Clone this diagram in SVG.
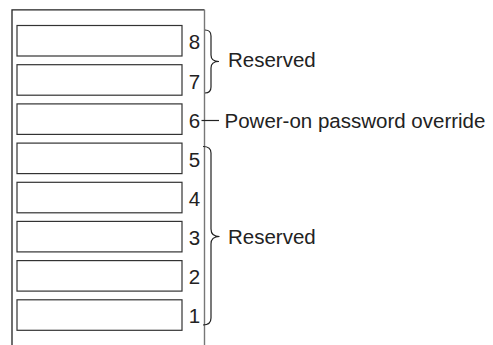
<svg xmlns="http://www.w3.org/2000/svg" width="493" height="345" viewBox="0 0 493 345">
<style>
.frame{fill:none;stroke:#222;stroke-width:1.3}
.rframe{fill:none;stroke:#777;stroke-width:1.4}
.slot{fill:#fff;stroke:#333;stroke-width:1.2}
.num{font-family:"Liberation Sans",Arial,sans-serif;font-size:20.5px;fill:#222;text-anchor:middle}
.lbl{font-family:"Liberation Sans",Arial,sans-serif;font-size:20.5px;fill:#222}
.brace{fill:none;stroke:#222;stroke-width:1.2}
</style>
<rect width="493" height="345" fill="#fff"/>
<g id="frame">
<path class="frame" d="M12,345 V9.8 H204.5"/>
<path class="rframe" d="M204.5,9.8 V345"/>
</g>
<g id="slot8"><rect class="slot" x="17" y="25.5" width="165" height="30.5"/><text class="num" x="194.5" y="49">8</text></g>
<g id="slot7"><rect class="slot" x="17" y="64.7" width="165" height="30.5"/><text class="num" x="194.5" y="88.5">7</text></g>
<g id="slot6"><rect class="slot" x="17" y="103.9" width="165" height="30.5"/><text class="num" x="194.5" y="127.5">6</text></g>
<g id="slot5"><rect class="slot" x="17" y="143.1" width="165" height="30.5"/><text class="num" x="194.5" y="166.8">5</text></g>
<g id="slot4"><rect class="slot" x="17" y="182.3" width="165" height="30.5"/><text class="num" x="194.5" y="206">4</text></g>
<g id="slot3"><rect class="slot" x="17" y="221.4" width="165" height="30.5"/><text class="num" x="194.5" y="245">3</text></g>
<g id="slot2"><rect class="slot" x="17" y="260.6" width="165" height="30.5"/><text class="num" x="194.5" y="283.8">2</text></g>
<g id="slot1"><rect class="slot" x="17" y="299.8" width="165" height="30.5"/><text class="num" x="194.5" y="323">1</text></g>
<g id="connectors">
<path class="brace" d="M205,30 Q211,30 211,36 V55 Q211,61.5 219,61.5 Q211,61.5 211,68 V87 Q211,93 205,93"/>
<path class="brace" d="M201.5,120.5 H219"/>
<path class="brace" d="M203,146.5 Q211,146.5 211,153 V229 Q211,236.5 219.5,236.5 Q211,236.5 211,244 V318 Q211,325 203,325"/>
</g>
<g id="labels">
<text class="lbl" x="228" y="67">Reserved</text>
<text class="lbl" x="224.5" y="127.5">Power-on password override</text>
<text class="lbl" x="228" y="244">Reserved</text>
</g>
</svg>
